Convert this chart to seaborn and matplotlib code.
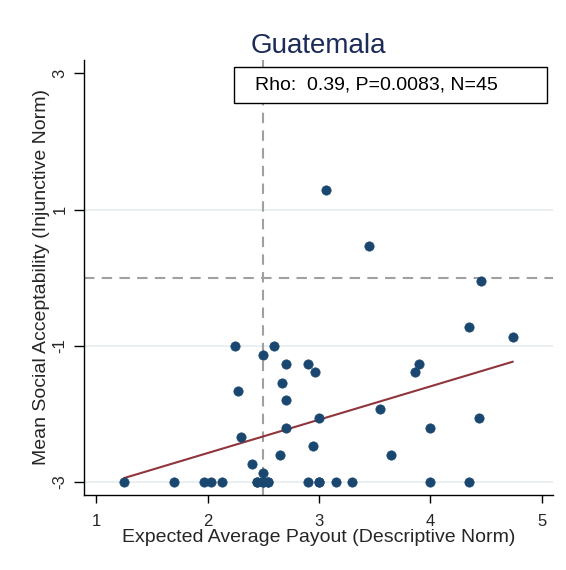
import numpy as np
import pandas as pd
import matplotlib
matplotlib.use("Agg")
import matplotlib.pyplot as plt
from matplotlib.patches import Rectangle
import seaborn as sns

# Expected average payout (descriptive norm) per respondent group
payout = [3.06, 3.45, 4.45, 4.35, 4.74,
          2.25, 2.50, 2.60, 2.70, 2.90, 3.90,
          3.86, 2.96, 2.67, 2.27, 2.70, 3.55,
          3.00, 4.44, 2.70, 4.00, 2.30, 2.95,
          2.65, 3.65, 2.40, 2.50,
          1.25, 1.70, 1.97, 2.03, 2.13, 2.44, 2.50, 2.54,
          2.90, 3.00, 3.15, 3.30, 4.00, 4.35,
          2.44, 2.50, 2.54, 3.00]
# Mean social acceptability (injunctive norm)
acceptability = [1.29, 0.47, -0.05, -0.72, -0.87,
                 -1.00, -1.13, -1.00, -1.26, -1.26, -1.26,
                 -1.39, -1.39, -1.54, -1.67, -1.80, -1.93,
                 -2.06, -2.06, -2.21, -2.21, -2.34, -2.47,
                 -2.60, -2.60, -2.73, -2.87,
                 -3.00, -3.00, -3.00, -3.00, -3.00, -3.00, -3.00, -3.00,
                 -3.00, -3.00, -3.00, -3.00, -3.00, -3.00,
                 -3.00, -3.00, -3.00, -3.00]

x_ticks = [1, 2, 3, 4, 5]
y_ticks = [-3, -1, 1, 3]
grid_y = [-3, -1, 1]
title = "Guatemala"
stats_label = "Rho:  0.39, P=0.0083, N=45"
x_ref, y_ref = 2.5, 0.0

df = pd.DataFrame({"payout": payout, "acceptability": acceptability})

sns.set_style("white")
plt.rcParams["font.family"] = ["Liberation Sans", "DejaVu Sans"]

fig = plt.figure(figsize=(5.66, 5.70), dpi=100)
ax = fig.add_axes([0.1484, 0.1316, 0.977 - 0.1484, 0.895 - 0.1316])

navy = "#1a476f"
maroon = "#90353b"

# light horizontal gridlines
for yv in grid_y:
    ax.axhline(yv, color="#e6eef0", lw=1.2, zorder=0)

# reference lines at the scale midpoints
ax.axvline(x_ref, color="#a0a0a0", lw=1.5, ls=(0, (5, 3.5)), zorder=1)
ax.axhline(y_ref, color="#a0a0a0", lw=1.5, ls=(0, (5, 3.5)), zorder=1)

sns.scatterplot(data=df, x="payout", y="acceptability", ax=ax,
                color=navy, s=45, edgecolor=navy, linewidth=0.5, zorder=3)
sns.regplot(data=df, x="payout", y="acceptability", ax=ax, scatter=False,
            ci=None, truncate=True,
            line_kws={"color": maroon, "lw": 1.5, "zorder": 2})

ax.set_xlim(0.89, 5.1)
ax.set_ylim(-3.19, 3.2)
ax.set_xticks(x_ticks)
ax.set_yticks(y_ticks)
ax.set_xticklabels([str(t) for t in x_ticks], fontsize=12)
ax.set_yticklabels([str(t) for t in y_ticks], fontsize=12, rotation=90, va="center")
ax.tick_params(axis="x", direction="out", length=6, width=1, color="black",
               bottom=True, pad=8)
ax.tick_params(axis="y", direction="out", length=7, width=1, color="black",
               left=True, pad=5)

for side in ["top", "right"]:
    ax.spines[side].set_visible(False)
for side in ["left", "bottom"]:
    ax.spines[side].set_color("black")
    ax.spines[side].set_linewidth(1)

ax.set_xlabel("Expected Average Payout (Descriptive Norm)", fontsize=14, labelpad=0)
ax.set_ylabel("Mean Social Acceptability (Injunctive Norm)", fontsize=14, labelpad=2)
ax.set_title(title, fontsize=20, color="#1c2b58", pad=5)

# statistics box
ax.add_patch(Rectangle((0.320, 0.901), 0.667, 0.083, transform=ax.transAxes,
                       facecolor="white", edgecolor="black", linewidth=1,
                       zorder=5, clip_on=False))
ax.text(0.365, 0.943, stats_label, transform=ax.transAxes, fontsize=14,
        ha="left", va="center", color="black", zorder=6)

fig.savefig("out.png", dpi=100, facecolor="white")
